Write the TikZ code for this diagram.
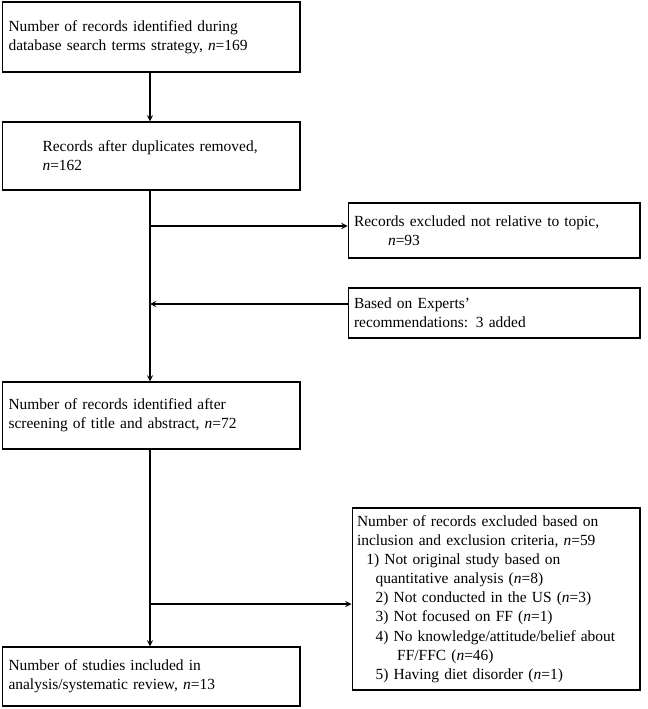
\documentclass[tikz,border=0pt]{standalone}
\usepackage{fontspec}
\setmainfont{Liberation Serif}
\begin{document}
\begin{tikzpicture}[x=0.02cm,y=-0.02cm,
 box/.style={draw,line width=0.6pt,inner sep=0pt,font=\fontsize{8.8}{10.9}\selectfont,align=left,anchor=center},
 arr/.style={->,>=stealth,line width=0.6pt}]
\useasboundingbox (0,0) rectangle (647,709);
\node[box,minimum width=5.96cm,minimum height=1.4cm,text width=5.7cm] (b1) at (151,37) {Number of records identified during\\database search terms strategy, \textit{n}=169};
\node[box,minimum width=5.96cm,minimum height=1.36cm,text width=5.7cm] (b2) at (151,156) {\hspace*{2.2em}Records after duplicates removed,\\\hspace*{2.2em}\textit{n}=162};
\node[box,minimum width=5.84cm,minimum height=1.1cm,text width=5.6cm] (b3) at (494,230.5) {Records excluded not relative to topic,\\\hspace*{2.2em}\textit{n}=93};
\node[box,minimum width=5.84cm,minimum height=1.0cm,text width=5.6cm] (b4) at (494,313) {Based on Experts'\\recommendations: 3 added};
\node[box,minimum width=5.96cm,minimum height=1.34cm,text width=5.7cm] (b5) at (151,415.5) {Number of records identified after\\screening of title and abstract, \textit{n}=72};
\node[box,minimum width=5.76cm,minimum height=3.64cm,text width=5.56cm] (b6) at (496,599) {Number of records excluded based on\\inclusion and exclusion criteria, \textit{n}=59\\
\hspace*{0.6em}1) Not original study based on\\\hspace*{1.2em}quantitative analysis (\textit{n}=8)\\
\hspace*{1.2em}2) Not conducted in the US (\textit{n}=3)\\
\hspace*{1.2em}3) Not focused on FF (\textit{n}=1)\\
\hspace*{1.2em}4) No knowledge/attitude/belief about\\\hspace*{2.6em}FF/FFC (\textit{n}=46)\\
\hspace*{1.2em}5) Having diet disorder (\textit{n}=1)};
\node[box,minimum width=5.96cm,minimum height=1.18cm,text width=5.7cm] (b7) at (151,676.5) {Number of studies included in\\analysis/systematic review, \textit{n}=13};
\coordinate (c1) at (150,226);
\coordinate (c2) at (150,304);
\coordinate (c3) at (150,604);
\draw[arr] (b1.south -| c1) -- (b2.north -| c1);
\draw[arr] (b2.south -| c1) -- (b5.north -| c1);
\draw[arr] (b5.south -| c1) -- (b7.north -| c1);
\draw[arr] (c1) -- (c1 -| b3.west);
\draw[arr] (c2 -| b4.west) -- (c2);
\draw[arr] (c3) -- (c3 -| b6.west);
\end{tikzpicture}
\end{document}
